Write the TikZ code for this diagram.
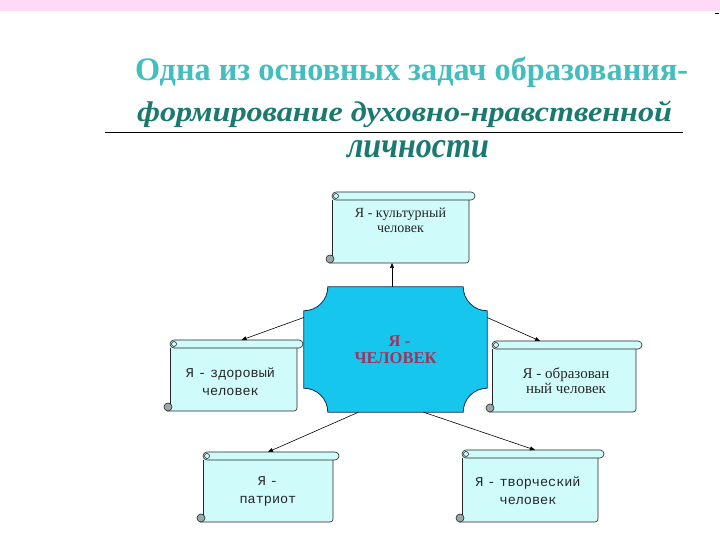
\documentclass[tikz,border=0pt]{standalone}
\usepackage{fontspec}
\setmainfont{Liberation Serif}
\newfontfamily\scrollmonofont{Liberation Mono}
\usetikzlibrary{arrows.meta,calc}
\definecolor{pinkband}{RGB}{255,217,246}
\definecolor{titleA}{RGB}{66,190,190}
\definecolor{titleB}{RGB}{26,122,112}
\definecolor{scrollfill}{RGB}{208,251,251}
\definecolor{curlfill}{RGB}{150,170,170}
\definecolor{centerfill}{RGB}{22,198,236}
\definecolor{centerline}{RGB}{25,40,90}
\definecolor{centertext}{RGB}{165,48,92}
\pgfdeclarelayer{bg}
\pgfsetlayers{bg,main}
\newcommand\scrsp{\hspace{4pt}}
\newcommand\drawscroll[1]{%
  \fill[scrollfill] (#1.south west) rectangle ([yshift=-4pt]#1.north east);
  \draw[scrolledge] ([yshift=-8pt]#1.north west) -- ([yshift=7pt]#1.south west);
  \draw[scrolledge] ([yshift=-8pt]#1.north east) -- ([yshift=3pt]#1.south east)
    arc[start angle=0,end angle=-90,radius=3pt] -- ([xshift=-3pt]#1.south west);
  \filldraw[scrolledge,fill=curlfill] ([xshift=-2pt,yshift=4pt]#1.south west) circle[radius=4pt];
  \filldraw[scrolledge,fill=scrollfill,rounded corners=4pt] (#1.north west) rectangle ([xshift=6pt,yshift=-8pt]#1.north east);
  \draw[scrolledge] ([xshift=4pt,yshift=-4pt]#1.north west) circle[radius=2.5pt];
}
\begin{document}
\begin{tikzpicture}[x=1pt,y=1pt,
  scrollbody/.style={inner sep=0pt,outer sep=0pt},
  scrolledge/.style={draw=black!85,line width=0.6pt},
  scrolltext/.style={font=\fontsize{14}{15}\selectfont,align=center,text=black!85},
  scrollmono/.style={font=\scrollmonofont\fontsize{13.5}{18}\selectfont,align=center,text=black!85},
  conn/.style={draw=black,line width=0.6pt,-{Triangle[length=5pt,width=4pt]}},
  titletext/.style={anchor=base west,inner sep=0pt,outer sep=0pt}]
\useasboundingbox (0,0) rectangle (720,540);
\fill[pinkband] (0,529) rectangle (720,540);
\draw[line width=0.8pt] (715,527) -- (719,527);
% titles
\node[titletext,text=titleA] (t1) at (135,459)
  {\resizebox{553pt}{23.5pt}{\bfseries Одна из основных задач образования-}};
\node[titletext,text=titleB] (t2) at (137,418)
  {\resizebox{535pt}{20.5pt}{\bfseries\itshape формирование духовно-нравственной}};
\draw[line width=0.8pt] (105,408) -- (683,408);
\node[titletext,text=titleB] (t3) at (347,382)
  {\resizebox{142pt}{17pt}{\bfseries\itshape личности}};
% centre
\node[inner sep=0pt,minimum width=183pt,minimum height=125pt,align=center,
      font=\bfseries\fontsize{16.5}{17}\selectfont,text=centertext] (c) at (395.5,190.5)
      {\hspace*{8pt}Я -\\ЧЕЛОВЕК};
% scrolls
\node[scrollbody,minimum width=137pt,minimum height=71pt,
      label={[scrolltext,yshift=7pt]center:Я - культурный\\человек}] (T) at (400.5,312.5) {};
\node[scrollbody,minimum width=127pt,minimum height=71pt,
      label={[scrollmono,yshift=-6.5pt,xshift=-3pt]center:Я\scrsp-\scrsp здоровый\\человек}] (L) at (233.5,164.5) {};
\node[scrollbody,minimum width=144pt,minimum height=71pt,
      label={[scrolltext,font=\fontsize{15}{15.5}\selectfont,yshift=-4pt,xshift=2pt]center:Я - образован\\ный человек}] (R) at (564,163.5) {};
\node[scrollbody,minimum width=130pt,minimum height=70pt,
      label={[scrollmono,yshift=-4pt]center:Я\scrsp-\\патриот}] (P) at (268,53) {};
\node[scrollbody,minimum width=136pt,minimum height=72pt,
      label={[scrollmono,yshift=-5pt,xshift=-2pt]center:Я\scrsp-\scrsp творческий\\человек}] (C) at (530,54) {};
\begin{pgfonlayer}{bg}
  \fill[white] (0,0) rectangle (720,529);
  \filldraw[fill=centerfill,draw=centerline,line width=0.8pt]
    ([xshift=24pt]c.north west) -- ([xshift=-24pt]c.north east)
    arc[start angle=180,end angle=270,radius=24pt]
    -- ([yshift=24pt]c.south east) arc[start angle=90,end angle=180,radius=24pt]
    -- ([xshift=24pt]c.south west) arc[start angle=0,end angle=90,radius=24pt]
    -- ([yshift=-24pt]c.north west) arc[start angle=270,end angle=360,radius=24pt] -- cycle;
  \drawscroll{T}
  \drawscroll{L}
  \drawscroll{R}
  \drawscroll{P}
  \drawscroll{C}
\end{pgfonlayer}
% connectors
\draw[conn] ([xshift=-3.5pt]c.north) -- ([xshift=-3.5pt]c.north |- T.south);
\draw[conn] ([yshift=32pt]c.west) -- ([xshift=8pt]L.north);
\draw[conn] ([yshift=32pt]c.east) -- ([xshift=-24pt]R.north);
\draw[conn] ([xshift=-37pt]c.south) -- (P.north);
\draw[conn] ([xshift=28pt]c.south) -- ([xshift=5pt]C.north);
\end{tikzpicture}
\end{document}
